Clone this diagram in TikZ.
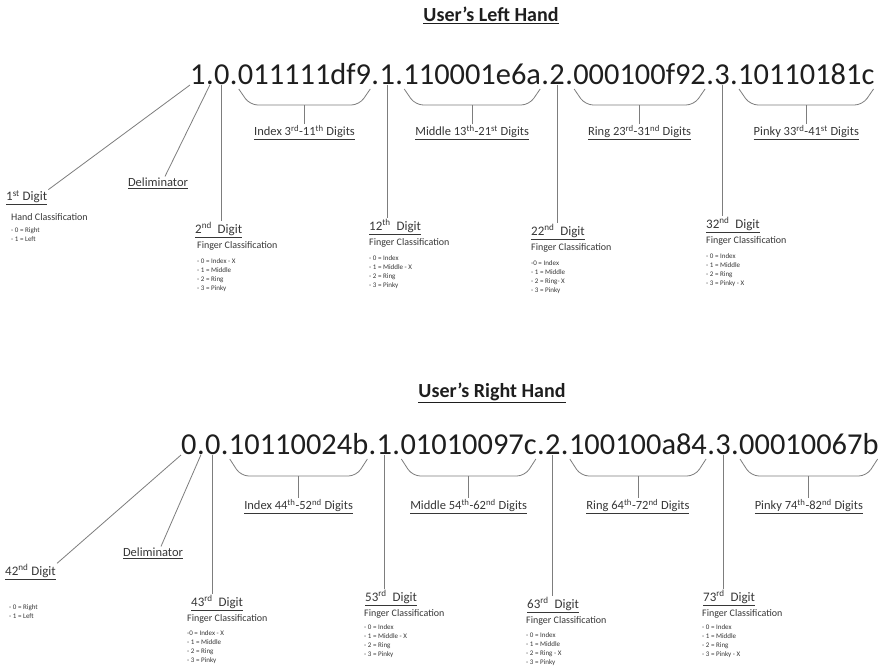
\documentclass[tikz,border=0pt]{standalone}
\usepackage{fontspec}
\setmainfont{Carlito}
\usepackage{xcolor}
\definecolor{inkdark}{RGB}{30,30,30}
\definecolor{labelgrey}{RGB}{55,55,55}
\definecolor{leadgrey}{RGB}{125,125,125}
\usetikzlibrary{positioning}
\tikzset{
  bigstr/.style  ={inner sep=0pt,font=\fontsize{30.4}{32}\selectfont,text=inkdark,
                   text height=0.64em,text depth=0pt},
  handtitle/.style={inner sep=1pt,font=\fontsize{20}{22}\selectfont\bfseries,text=inkdark},
  spanlbl/.style ={inner sep=1pt,font=\fontsize{12.5}{14}\selectfont,text=labelgrey},
  digitlbl/.style={inner sep=1pt,anchor=west,font=\fontsize{13}{15}\selectfont,text=labelgrey},
  classlbl/.style={inner sep=0pt,font=\fontsize{10}{12}\selectfont,text=labelgrey},
  optlist/.style ={inner sep=0pt,align=left,font=\fontsize{7}{9}\selectfont,text=labelgrey},
  lead/.style    ={draw=leadgrey,line width=0.8pt},
  brace/.style   ={lead,rounded corners=8pt},
}
\newcommand{\ul}[1]{\underline{#1}}
\newcommand{\sps}[1]{\textsuperscript{#1}}

\begin{document}
\begin{tikzpicture}[x=1pt,y=-1pt]
  \useasboundingbox[fill=white] (0,0) rectangle (880,669);

  % ---------------- left hand ----------------
  \node[handtitle] (titleL) at (491,15) {\ul{User's Left Hand}};

  \node[bigstr,anchor=south west] (L1) at (190,85) {1};
  \node[bigstr,right=0pt of L1]   (Ld1)  {.};
  \node[bigstr,right=0pt of Ld1]  (L2)   {0};
  \node[bigstr,right=0pt of L2]   (Ld2)  {.};
  \node[bigstr,right=0pt of Ld2]  (Lidx) {011111df9};
  \node[bigstr,right=0pt of Lidx] (Ld3)  {.};
  \node[bigstr,right=0pt of Ld3]  (L12)  {1};
  \node[bigstr,right=0pt of L12]  (Ld4)  {.};
  \node[bigstr,right=0pt of Ld4]  (Lmid) {110001e6a};
  \node[bigstr,right=0pt of Lmid] (Ld5)  {.};
  \node[bigstr,right=0pt of Ld5]  (L22)  {2};
  \node[bigstr,right=0pt of L22]  (Ld6)  {.};
  \node[bigstr,right=0pt of Ld6]  (Lring){000100f92};
  \node[bigstr,right=0pt of Lring](Ld7)  {.};
  \node[bigstr,right=0pt of Ld7]  (L32)  {3};
  \node[bigstr,right=0pt of L32]  (Ld8)  {.};
  \node[bigstr,right=0pt of Ld8]  (Lpky) {10110181c};

  % braces under the finger blocks
  \foreach \seg/\txt in {Lidx/{Index 3\sps{rd}-11\sps{th} Digits},
                         Lmid/{Middle 13\sps{th}-21\sps{st} Digits},
                         Lring/{Ring 23\sps{rd}-31\sps{nd} Digits},
                         Lpky/{Pinky 33\sps{rd}-41\sps{st} Digits}}{
    \draw[brace] ([xshift=1pt,yshift=-4pt]\seg.south west) -- ([xshift=12pt,yshift=-20pt]\seg.south west)
      -- ([xshift=-12pt,yshift=-20pt]\seg.south east) -- ([xshift=-1pt,yshift=-4pt]\seg.south east);
    \coordinate (\seg m) at ([yshift=-20pt]\seg.south);
    \node[spanlbl,below=19pt of \seg m] (\seg lbl) {\ul{\txt}};
    \draw[lead] (\seg m) -- (\seg lbl.north);
  }

  \node[digitlbl] (dig1) at (5,198) {\ul{1\sps{st} Digit}};
  \node[classlbl,below right=7pt and 6pt of dig1.south west] (cls1) {Hand Classification};
  \node[optlist,below right=7pt and 0pt of cls1.south west] (opt1) {- 0 = Right\\- 1 = Left};
  \node[spanlbl] (delimL) at (158,183) {\ul{Deliminator}};

  \node[digitlbl] (dig2) at (194,230) {\ul{2\sps{nd} \ Digit}};
  \node[classlbl,below right=3pt and 3pt of dig2.south west] (cls2) {Finger Classification};
  \node[optlist,below right=8pt and 0pt of cls2.south west] (opt2) {- 0 = Index - X\\- 1 = Middle\\- 2 = Ring\\- 3 = Pinky};

  \node[digitlbl] (dig12) at (368,227) {\ul{12\sps{th} \ Digit}};
  \node[classlbl,below right=3pt and 1pt of dig12.south west] (cls12) {Finger Classification};
  \node[optlist,below right=8pt and 0pt of cls12.south west] (opt12) {- 0 = Index\\- 1 = Middle - X\\- 2 = Ring\\- 3 = Pinky};

  \node[digitlbl] (dig22) at (530,232) {\ul{22\sps{nd} \ Digit}};
  \node[classlbl,below right=3pt and 1pt of dig22.south west] (cls22) {Finger Classification};
  \node[optlist,below right=8pt and 0pt of cls22.south west] (opt22) {-0 = Index\\- 1 = Middle\\- 2 = Ring- X\\- 3 = Pinky};

  \node[digitlbl] (dig32) at (705,225) {\ul{32\sps{nd} \ Digit}};
  \node[classlbl,below right=3pt and 1pt of dig32.south west] (cls32) {Finger Classification};
  \node[optlist,below right=8pt and 0pt of cls32.south west] (opt32) {- 0 = Index\\- 1 = Middle\\- 2 = Ring\\- 3 = Pinky - X};

  \draw[lead] (L1.south west) -- (dig1.north east);
  \draw[lead] (Ld1.south) -- ([xshift=7pt]delimL.north);
  \draw[lead] (L2.south) -- (L2.south |- dig2.north);
  \draw[lead] (L12.south) -- (L12.south |- dig12.north);
  \draw[lead] (L22.south) -- (L22.south |- dig22.north);
  \draw[lead] (L32.south) -- (L32.south |- dig32.north);

  % ---------------- right hand ----------------
  \node[handtitle] (titleR) at (492,393) {\ul{User's Right Hand}};

  \node[bigstr,anchor=south west] (R1) at (181,455) {0};
  \node[bigstr,right=0pt of R1]   (Rd1)  {.};
  \node[bigstr,right=0pt of Rd1]  (R2)   {0};
  \node[bigstr,right=0pt of R2]   (Rd2)  {.};
  \node[bigstr,right=0pt of Rd2]  (Ridx) {10110024b};
  \node[bigstr,right=0pt of Ridx] (Rd3)  {.};
  \node[bigstr,right=0pt of Rd3]  (R12)  {1};
  \node[bigstr,right=0pt of R12]  (Rd4)  {.};
  \node[bigstr,right=0pt of Rd4]  (Rmid) {01010097c};
  \node[bigstr,right=0pt of Rmid] (Rd5)  {.};
  \node[bigstr,right=0pt of Rd5]  (R22)  {2};
  \node[bigstr,right=0pt of R22]  (Rd6)  {.};
  \node[bigstr,right=0pt of Rd6]  (Rring){100100a84};
  \node[bigstr,right=0pt of Rring](Rd7)  {.};
  \node[bigstr,right=0pt of Rd7]  (R32)  {3};
  \node[bigstr,right=0pt of R32]  (Rd8)  {.};
  \node[bigstr,right=0pt of Rd8]  (Rpky) {00010067b};

  \foreach \seg/\txt in {Ridx/{Index 44\sps{th}-52\sps{nd} Digits},
                         Rmid/{Middle 54\sps{th}-62\sps{nd} Digits},
                         Rring/{Ring 64\sps{th}-72\sps{nd} Digits},
                         Rpky/{Pinky 74\sps{th}-82\sps{nd} Digits}}{
    \draw[brace] ([xshift=1pt,yshift=-4pt]\seg.south west) -- ([xshift=12pt,yshift=-21pt]\seg.south west)
      -- ([xshift=-12pt,yshift=-21pt]\seg.south east) -- ([xshift=-1pt,yshift=-4pt]\seg.south east);
    \coordinate (\seg m) at ([yshift=-21pt]\seg.south);
    \node[spanlbl,below=22pt of \seg m] (\seg lbl) {\ul{\txt}};
    \draw[lead] (\seg m) -- (\seg lbl.north);
  }

  \node[digitlbl] (dig42) at (4,572) {\ul{42\sps{nd} Digit}};
  \node[optlist,below right=24pt and 5pt of dig42.south west] (opt42) {- 0 = Right\\- 1 = Left};
  \node[spanlbl] (delimR) at (153,553) {\ul{Deliminator}};

  \node[digitlbl] (dig43) at (190,603) {\ul{43\sps{rd} \ Digit}};
  \node[classlbl,below right=3pt and -3pt of dig43.south west] (cls43) {Finger Classification};
  \node[optlist,below right=7pt and 0pt of cls43.south west] (opt43) {-0 = Index - X\\- 1 = Middle\\- 2 = Ring\\- 3 = Pinky};

  \node[digitlbl] (dig53) at (364,598) {\ul{53\sps{rd} \ Digit}};
  \node[classlbl,below right=3pt and 0pt of dig53.south west] (cls53) {Finger Classification};
  \node[optlist,below right=6pt and 0pt of cls53.south west] (opt53) {- 0 = Index\\- 1 = Middle - X\\- 2 = Ring\\- 3 = Pinky};

  \node[digitlbl] (dig63) at (526,605) {\ul{63\sps{rd} \ Digit}};
  \node[classlbl,below right=3pt and 0pt of dig63.south west] (cls63) {Finger Classification};
  \node[optlist,below right=7pt and 0pt of cls63.south west] (opt63) {- 0 = Index\\- 1 = Middle\\- 2 = Ring - X\\- 3 = Pinky};

  \node[digitlbl] (dig73) at (702,598) {\ul{73\sps{rd} \ Digit}};
  \node[classlbl,below right=3pt and 0pt of dig73.south west] (cls73) {Finger Classification};
  \node[optlist,below right=6pt and 0pt of cls73.south west] (opt73) {- 0 = Index\\- 1 = Middle\\- 2 = Ring\\- 3 = Pinky - X};

  \draw[lead] (R1.south west) -- (dig42.north east);
  \draw[lead] (Rd1.south) -- ([xshift=8pt]delimR.north);
  \draw[lead] (R2.south) -- (R2.south |- dig43.north);
  \draw[lead] (R12.south) -- (R12.south |- dig53.north);
  \draw[lead] (R22.south) -- (R22.south |- dig63.north);
  \draw[lead] (R32.south) -- (R32.south |- dig73.north);
\end{tikzpicture}
\end{document}
